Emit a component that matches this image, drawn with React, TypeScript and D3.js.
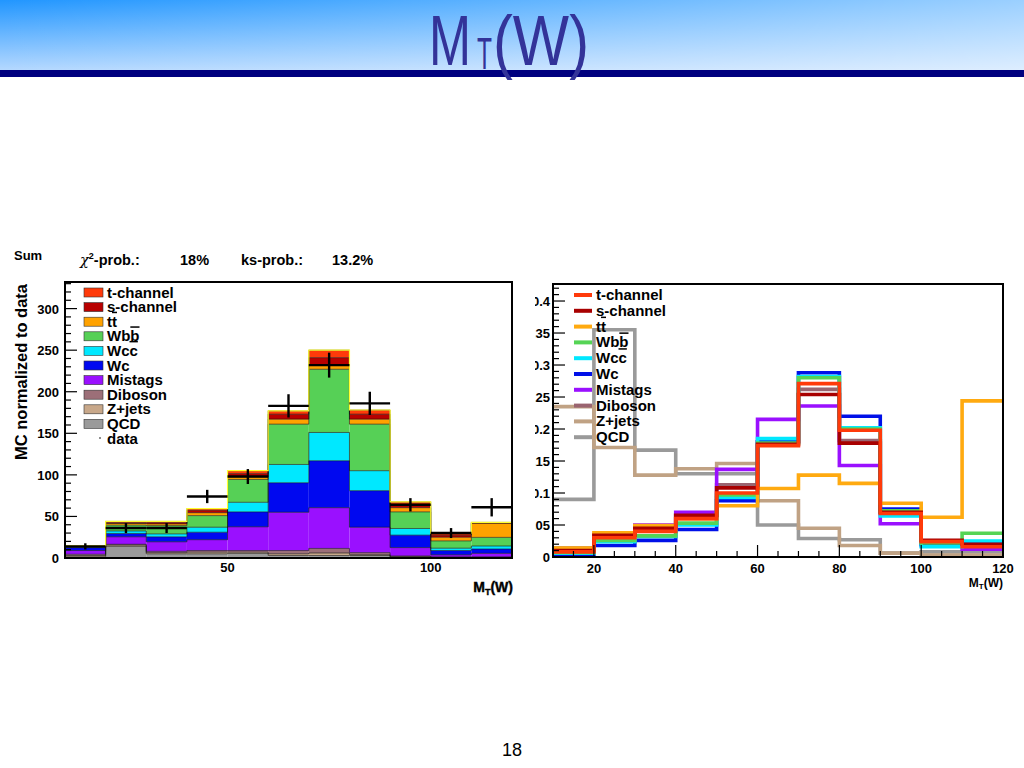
import React from "react";
import * as d3 from "d3";

// ---------- shared binning (M_T(W) in GeV) ----------
const binLow = [10, 20, 30, 40, 50, 60, 70, 80, 90, 100, 110];
const binWidth = 10;

// ---------- left panel: stacked MC normalized to data ----------
const qcd = [1.5, 14, 5, 5, 5.5, 3, 3, 3, 1, 0.5, 0.5];
const zjets = [1.5, 1.5, 1.5, 2, 1.5, 2, 3, 1, 0.5, 0.3, 0.3];
const diboson = [1.5, 1, 1.5, 2, 2, 4, 5.5, 2.5, 1, 0.5, 0.5];
const mistags = [4.5, 9, 11.5, 13, 28.5, 46, 49, 30.5, 10, 2.5, 4.3];
const wc = [3.5, 4, 6, 9, 18, 35.5, 56.5, 44, 15, 5.2, 5.2];
const wcc = [0.5, 3, 3.5, 6, 11.5, 22, 34, 24, 8, 2.8, 3.6];
const wbb = [0.5, 7, 10, 14, 27.5, 48.5, 76, 56, 20, 8.8, 10.4];
const ttbar = [0.5, 2, 2, 3.5, 3, 6, 5, 6, 5, 4.4, 17];
const schan = [0.5, 1, 1.5, 3, 4, 6, 9, 6, 4, 2.5, 0.5];
const tchan = [0.5, 1.5, 1.5, 2, 3.5, 4, 9, 5, 3, 2.3, 0.5];
const dataCounts = [14, 36, 36, 74, 98, 183, 232, 186, 64, 30, 61];
const dataErrors = [3.7, 6, 6, 8, 9, 14, 15, 14, 8, 6, 11];

// ---------- right panel: unit-normalized templates ----------
const tchanShape = [0.008, 0.030, 0.040, 0.060, 0.100, 0.174, 0.271, 0.198, 0.068, 0.024, 0.016];
const schanShape = [0.010, 0.034, 0.045, 0.065, 0.108, 0.176, 0.254, 0.178, 0.070, 0.026, 0.020];
const ttShape = [0.014, 0.038, 0.049, 0.060, 0.080, 0.107, 0.128, 0.115, 0.084, 0.062, 0.244];
const wbbShape = [0.007, 0.026, 0.033, 0.053, 0.097, 0.178, 0.280, 0.200, 0.072, 0.022, 0.037];
const wccShape = [0.006, 0.024, 0.032, 0.050, 0.093, 0.185, 0.282, 0.202, 0.064, 0.016, 0.025];
const wcShape = [0.004, 0.018, 0.026, 0.043, 0.088, 0.180, 0.288, 0.220, 0.075, 0.020, 0.022];
const mistagShape = [0.012, 0.032, 0.050, 0.070, 0.137, 0.215, 0.236, 0.143, 0.052, 0.018, 0.012];
const dibosonShape = [0.014, 0.035, 0.045, 0.065, 0.113, 0.180, 0.262, 0.182, 0.068, 0.020, 0.018];
const zjetsShape = [0.235, 0.171, 0.128, 0.138, 0.146, 0.088, 0.045, 0.018, 0.006, 0.003, 0.003];
const qcdShape = [0.090, 0.355, 0.167, 0.130, 0.130, 0.050, 0.029, 0.027, 0.006, 0.008, 0.008];

// ---------- labels / ticks ----------
const processKeys = ["tchan", "schan", "tt", "wbb", "wcc", "wc", "mistags", "diboson", "zjets", "qcd"];
// [plain part, over-lined part]
const processLabels: [string, string][] = [
  ["t-channel", ""],
  ["s-channel", ""],
  ["t", "t"],
  ["Wb", "b"],
  ["Wc", "c"],
  ["Wc", ""],
  ["Mistags", ""],
  ["Diboson", ""],
  ["Z+jets", ""],
  ["QCD", ""],
];
const leftYTicks = [0, 50, 100, 150, 200, 250, 300];
const leftXTicks = [50, 100];
const rightYTicks = [0, 0.05, 0.1, 0.15, 0.2, 0.25, 0.3, 0.35, 0.4];
const rightYTickLabels = ["0", "0.05", "0.1", "0.15", "0.2", "0.25", "0.3", "0.35", "0.4"];
const rightXTicks = [20, 40, 60, 80, 100, 120];

const leftValues: Record<string, number[]> = {
  qcd, zjets, diboson, mistags, wc, wcc, wbb, tt: ttbar, schan, tchan,
};
const rightValues: Record<string, number[]> = {
  tchan: tchanShape, schan: schanShape, tt: ttShape, wbb: wbbShape, wcc: wccShape,
  wc: wcShape, mistags: mistagShape, diboson: dibosonShape, zjets: zjetsShape, qcd: qcdShape,
};

// styles
const fillColors: Record<string, string> = {
  tchan: "#ff3a0a",
  schan: "#b80000",
  tt: "#ffa200",
  wbb: "#56d056",
  wcc: "#00e8ff",
  wc: "#0008f0",
  mistags: "#9a10ff",
  diboson: "#9c6f78",
  zjets: "#c8a88a",
  qcd: "#9a9a9a",
};
const lineColors: Record<string, string> = {
  tchan: "#ff3a0a",
  schan: "#a80000",
  tt: "#ffaa10",
  wbb: "#55d455",
  wcc: "#00e8ff",
  wc: "#0010e8",
  mistags: "#9a10ff",
  diboson: "#9a6470",
  zjets: "#c0a284",
  qcd: "#9a9a9a",
};

const FONT = "'Liberation Sans', Arial, Helvetica, sans-serif";

function stepPoints(values: number[]): [number, number][] {
  const pts: [number, number][] = [];
  values.forEach((v, i) => {
    pts.push([binLow[i], v]);
    pts.push([binLow[i] + binWidth, v]);
  });
  return pts;
}

function Label({ x, y, parts }: { x: number; y: number; parts: [string, string] }) {
  return (
    <text x={x} y={y} fontSize={15} fontWeight="bold">
      {parts[0]}
      {parts[1] ? <tspan style={{ textDecoration: "overline" }}>{parts[1]}</tspan> : null}
    </text>
  );
}

export default function App() {
  // ----- left scales -----
  const xL = d3.scaleLinear().domain([10, 120]).range([65, 512]);
  const yL = d3.scaleLinear().domain([0, 332]).range([558, 282]);
  const stackKeys = ["qcd", "zjets", "diboson", "mistags", "wc", "wcc", "wbb", "tt", "schan", "tchan"];
  const table = binLow.map((lo, i) => {
    const row: Record<string, number> = { lo };
    stackKeys.forEach((k) => (row[k] = leftValues[k][i]));
    return row;
  });
  const series = d3.stack<Record<string, number>>().keys(stackKeys)(table);
  const lineL = d3
    .line<[number, number]>()
    .x((p) => xL(p[0]))
    .y((p) => yL(p[1]));
  const totals = binLow.map((_, i) => stackKeys.reduce((s, k) => s + leftValues[k][i], 0));

  // ----- right scales -----
  const xR = d3.scaleLinear().domain([10, 120]).range([553, 1003]);
  const yR = d3.scaleLinear().domain([0, 0.4266]).range([557, 284]);
  const lineR = d3
    .line<[number, number]>()
    .x((p) => xR(p[0]))
    .y((p) => yR(p[1]));
  const drawOrder = ["qcd", "zjets", "diboson", "mistags", "wc", "wcc", "wbb", "tt", "schan", "tchan"];

  const leftMinorY = d3.range(0, 331, 10);
  const rightMinorY = d3.range(0, 0.4201, 0.01);
  const rightMinorX = d3.range(10, 120.01, 5);

  return (
    <svg
      width={1024}
      height={768}
      style={{ position: "absolute", left: 0, top: 0, background: "#fff" }}
      fontFamily={FONT}
    >
      <defs>
        <linearGradient id="hdrV" x1="0" y1="0" x2="0" y2="1">
          <stop offset="0" stopColor="#2196ff" />
          <stop offset="1" stopColor="#b4d8ff" />
        </linearGradient>
        <linearGradient id="hdrH" x1="0" y1="0" x2="1" y2="0">
          <stop offset="0" stopColor="#ffffff" stopOpacity={0} />
          <stop offset="1" stopColor="#ffffff" stopOpacity={0.55} />
        </linearGradient>
        <clipPath id="rightLabelClip">
          <rect x={535} y={270} width={30} height={300} />
        </clipPath>
      </defs>

      {/* header */}
      <rect x={0} y={0} width={1024} height={70} fill="url(#hdrV)" />
      <rect x={0} y={0} width={1024} height={70} fill="url(#hdrH)" />
      <rect x={0} y={70} width={1024} height={7} fill="#00007f" />
      <g fill="#333399">
        <text x={429} y={65} fontSize={70} textLength={42} lengthAdjust="spacingAndGlyphs">M</text>
        <text x={477} y={69} fontSize={44} textLength={15} lengthAdjust="spacingAndGlyphs">T</text>
        <text x={493} y={65} fontSize={70} textLength={96} lengthAdjust="spacingAndGlyphs">(W)</text>
      </g>

      {/* ================= LEFT PANEL ================= */}
      <text x={14} y={260} fontSize={13} fontWeight="bold">Sum</text>
      <text x={80} y={265} fontSize={14.5} fontWeight="bold">
        <tspan fontFamily="'DejaVu Serif', serif" fontWeight="normal" fontStyle="italic">χ</tspan>
        <tspan fontSize={9} dy={-6}>2</tspan>
        <tspan dy={6}>-prob.:</tspan>
      </text>
      <text x={180} y={265} fontSize={14.5} fontWeight="bold">18%</text>
      <text x={241} y={265} fontSize={14.5} fontWeight="bold">ks-prob.:</text>
      <text x={332} y={265} fontSize={14.5} fontWeight="bold">13.2%</text>

      {/* stacked bars */}
      {series.map((s) => (
        <g key={s.key}>
          {s.map((d, i) => (
            <rect
              key={i}
              x={xL(binLow[i])}
              width={xL(binLow[i] + binWidth) - xL(binLow[i])}
              y={yL(d[1])}
              height={Math.max(0, yL(d[0]) - yL(d[1]))}
              fill={fillColors[s.key]}
            />
          ))}
        </g>
      ))}
      {series.map((s) => (
        <path
          key={"o" + s.key}
          d={lineL(stepPoints(s.map((d) => d[1]))) || ""}
          fill="none"
          stroke="#111"
          strokeWidth={0.8}
          strokeOpacity={0.75}
        />
      ))}
      <path d={lineL(stepPoints(totals)) || ""} fill="none" stroke="#ffff30" strokeWidth={1.2} />

      {/* data points */}
      <g stroke="#000" strokeWidth={2.4}>
        {dataCounts.map((v, i) => (
          <g key={i}>
            <line x1={xL(binLow[i])} x2={xL(binLow[i] + binWidth)} y1={yL(v)} y2={yL(v)} />
            <line
              x1={xL(binLow[i] + binWidth / 2)}
              x2={xL(binLow[i] + binWidth / 2)}
              y1={yL(v - dataErrors[i])}
              y2={yL(v + dataErrors[i])}
            />
          </g>
        ))}
      </g>

      {/* left axes */}
      <g stroke="#000" strokeWidth={1.2}>
        {leftMinorY.map((t) => (
          <line key={t} x1={xL(10)} x2={xL(10) + (t % 50 === 0 ? 12 : 6)} y1={yL(t)} y2={yL(t)} />
        ))}
      </g>
      <rect x={xL(10)} y={yL(332)} width={xL(120) - xL(10)} height={yL(0) - yL(332)} fill="none" stroke="#000" strokeWidth={2} />
      {leftYTicks.map((t) => (
        <text key={t} x={59} y={yL(t) + 5} fontSize={13} fontWeight="bold" textAnchor="end">{t}</text>
      ))}
      {leftXTicks.map((t) => (
        <text key={t} x={xL(t)} y={572} fontSize={13} fontWeight="bold" textAnchor="middle">{t}</text>
      ))}
      <text x={513} y={592} fontSize={14} fontWeight="bold" textAnchor="end" stroke="#000" strokeWidth={0.4}>
        M<tspan fontSize={9} dy={3}>T</tspan><tspan dy={-3}>(W)</tspan>
      </text>
      <text
        transform="translate(27,372) rotate(-90)"
        fontSize={16.5}
        fontWeight="bold"
        textAnchor="middle"
      >
        MC normalized to data
      </text>

      {/* left legend */}
      {processKeys.map((k, i) => (
        <g key={k}>
          <rect x={84} y={288 + i * 14.6} width={19} height={9} fill={fillColors[k]} stroke="#333" strokeWidth={0.6} />
          <Label x={107} y={297.5 + i * 14.6} parts={processLabels[i]} />
        </g>
      ))}
      <circle cx={100} cy={288 + 10 * 14.6 + 4} r={0.8} fill="#000" />
      <text x={107} y={297.5 + 10 * 14.6} fontSize={15} fontWeight="bold">data</text>

      {/* ================= RIGHT PANEL ================= */}
      {drawOrder.map((k) => (
        <path
          key={k}
          d={lineR(stepPoints(rightValues[k])) || ""}
          fill="none"
          stroke={lineColors[k]}
          strokeWidth={3.6}
        />
      ))}
      <g stroke="#000" strokeWidth={1.2}>
        {rightMinorY.map((t, i) => (
          <line key={"y" + i} x1={xR(10)} x2={xR(10) + (i % 5 === 0 ? 12 : 6)} y1={yR(t)} y2={yR(t)} />
        ))}
        {rightMinorX.map((t, i) => (
          <line key={"x" + i} x1={xR(t)} x2={xR(t)} y1={yR(0)} y2={yR(0) - ((t % 20 === 0) ? 12 : 6)} />
        ))}
      </g>
      <rect x={xR(10)} y={yR(0.4266)} width={xR(120) - xR(10)} height={yR(0) - yR(0.4266)} fill="none" stroke="#000" strokeWidth={2} />
      <g clipPath="url(#rightLabelClip)">
        {rightYTicks.map((t, i) => (
          <text key={t} x={550} y={yR(t) + 5} fontSize={13} fontWeight="bold" textAnchor="end">{rightYTickLabels[i]}</text>
        ))}
      </g>
      {rightXTicks.map((t) => (
        <text key={t} x={xR(t)} y={573} fontSize={13} fontWeight="bold" textAnchor="middle">{t}</text>
      ))}
      <text x={1003} y={587} fontSize={12} fontWeight="bold" textAnchor="end">
        M<tspan fontSize={8} dy={2}>T</tspan><tspan dy={-2}>(W)</tspan>
      </text>

      {/* right legend */}
      {processKeys.map((k, i) => (
        <g key={k}>
          <line x1={574} x2={592} y1={295 + i * 15.8} y2={295 + i * 15.8} stroke={lineColors[k]} strokeWidth={4} />
          <Label x={596} y={300 + i * 15.8} parts={processLabels[i]} />
        </g>
      ))}

      {/* page number */}
      <text x={512} y={756} fontSize={18} textAnchor="middle">18</text>
    </svg>
  );
}
